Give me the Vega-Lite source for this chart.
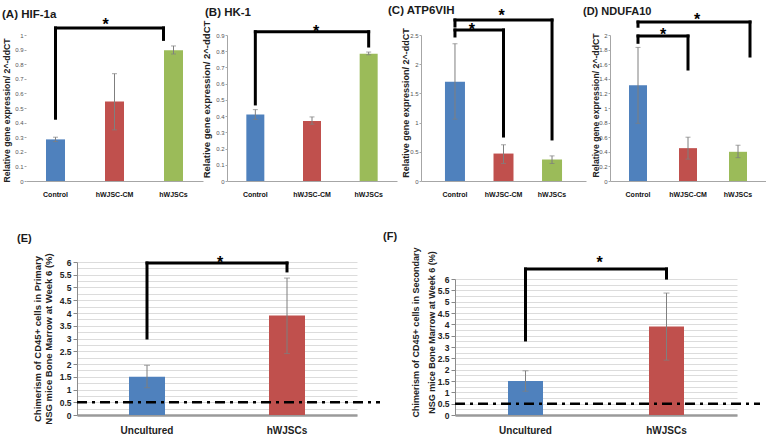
{
 "$schema": "https://vega.github.io/schema/vega-lite/v6.json",
 "background": "white",
 "padding": {"left": 2, "top": 5, "right": 0, "bottom": 0},
 "config": {
  "view": {"stroke": null},
  "font": "Liberation Sans",
  "title": {"fontWeight": "bold", "color": "#1a1a1a", "anchor": "start", "frame": "group", "baseline": "alphabetic", "font": "Liberation Sans"},
  "axis": {"grid": false, "labelOverlap": false, "labelFlush": false, "titleFontWeight": "bold", "titleColor": "#222222", "titleFont": "Liberation Sans", "labelFont": "Liberation Sans"},
  "axisY": {"titleBaseline": "middle", "labelFontSize": 6, "labelColor": "#555555", "labelPadding": 1, "tickSize": 2, "tickColor": "#aaaaaa", "domainColor": "#a6a6a6"},
  "axisX": {"labelAngle": 0, "ticks": false, "labelFontWeight": "bold", "domainColor": "#a6a6a6"}
 },
 "datasets": {
  "A_bars": [{"g":"Control","y":0.285},{"g":"hWJSC-CM","y":0.545},{"g":"hWJSCs","y":0.895}],
  "A_err": [{"g":"Control","y":0.27,"y2":0.3},{"g":"hWJSC-CM","y":0.35,"y2":0.735},{"g":"hWJSCs","y":0.87,"y2":0.925}],
  "A_br": [{"g":"Control","g2":"Control","y":0.43,"y2":1.048}],
  "A_brh": [{"g":"Control","g2":"hWJSCs","y":1.048,"y2":1.048}],
  "A_brr": [{"g":"hWJSCs","g2":"hWJSCs","y":0.97,"y2":1.048}],
  "A_star": [{"g":"hWJSC-CM","y":1.034}],
  "B_bars": [{"g":"Control","y":0.41},{"g":"hWJSC-CM","y":0.37},{"g":"hWJSCs","y":0.785}],
  "B_err": [{"g":"Control","y":0.38,"y2":0.44},{"g":"hWJSC-CM","y":0.35,"y2":0.395},{"g":"hWJSCs","y":0.778,"y2":0.795}],
  "B_br": [{"g":"Control","g2":"hWJSCs","y":0.92,"y2":0.92},{"g":"Control","g2":"Control","y":0.475,"y2":0.92},{"g":"hWJSCs","g2":"hWJSCs","y":0.832,"y2":0.92}],
  "B_star": [{"g":"hWJSC-CM","y":0.888}],
  "C_bars": [{"g":"Control","y":1.7},{"g":"hWJSC-CM","y":0.47},{"g":"hWJSCs","y":0.37}],
  "C_err": [{"g":"Control","y":1.06,"y2":2.35},{"g":"hWJSC-CM","y":0.3,"y2":0.62},{"g":"hWJSCs","y":0.3,"y2":0.43}],
  "C_br": [{"g":"Control","g2":"hWJSCs","y":2.757,"y2":2.757},{"g":"Control","g2":"Control","y":2.654,"y2":2.757},{"g":"hWJSCs","g2":"hWJSCs","y":0.72,"y2":2.757},{"g":"Control","g2":"hWJSC-CM","y":2.585,"y2":2.585},{"g":"Control","g2":"Control","y":2.483,"y2":2.585},{"g":"hWJSC-CM","g2":"hWJSC-CM","y":0.77,"y2":2.585}],
  "C_star1": [{"g":"hWJSC-CM","y":2.74}],
  "C_star2": [{"g":"Control","y":2.5}],
  "D_bars": [{"g":"Control","y":1.31},{"g":"hWJSC-CM","y":0.45},{"g":"hWJSCs","y":0.4}],
  "D_err": [{"g":"Control","y":0.79,"y2":1.83},{"g":"hWJSC-CM","y":0.3,"y2":0.6},{"g":"hWJSCs","y":0.32,"y2":0.49}],
  "D_br": [{"g":"Control","g2":"Control","y":2.12,"y2":2.178},{"g":"Control","g2":"hWJSC-CM","y":1.986,"y2":1.986},{"g":"Control","g2":"Control","y":1.9,"y2":1.986},{"g":"hWJSC-CM","g2":"hWJSC-CM","y":1.534,"y2":1.986}],
  "D_brh": [{"g":"Control","g2":"hWJSCs","y":2.178,"y2":2.178}],
  "D_brr": [{"g":"hWJSCs","g2":"hWJSCs","y":1.712,"y2":2.178}],
  "D_star1": [{"g":"hWJSC-CM","y":2.14}],
  "D_star2": [{"g":"Control","y":1.935}],
  "E_bars": [{"g":"Uncultured","y":1.5},{"g":"hWJSCs","y":3.9}],
  "E_err": [{"g":"Uncultured","y":1.07,"y2":1.95},{"g":"hWJSCs","y":2.41,"y2":5.37}],
  "E_br": [{"g":"Uncultured","g2":"hWJSCs","y":5.96,"y2":5.96},{"g":"Uncultured","g2":"Uncultured","y":3.02,"y2":5.96},{"g":"hWJSCs","g2":"hWJSCs","y":5.65,"y2":5.96}],
  "E_star": [{"g":"Uncultured","y":5.765}],
  "E_thr": [{"g":"Uncultured","g2":"hWJSCs","y":0.5,"y2":0.5}],
  "F_bars": [{"g":"Uncultured","y":1.5},{"g":"hWJSCs","y":3.9}],
  "F_err": [{"g":"Uncultured","y":1.05,"y2":1.95},{"g":"hWJSCs","y":2.42,"y2":5.38}],
  "F_br": [{"g":"Uncultured","g2":"hWJSCs","y":6.44,"y2":6.44},{"g":"Uncultured","g2":"Uncultured","y":3.31,"y2":6.44},{"g":"hWJSCs","g2":"hWJSCs","y":6.04,"y2":6.44}],
  "F_star": [{"g":"Uncultured","y":6.48}],
  "F_thr": [{"g":"Uncultured","g2":"hWJSCs","y":0.5,"y2":0.5}]
 },
 "spacing": 34,
 "bounds": "full",
 "resolve": {"scale": {"color": "independent", "x": "independent", "y": "independent"}},
 "vconcat": [
  {
   "hconcat": [
    {
     "width": 177, "height": 146,
     "title": {"text": "(A) HIF-1a", "dx": -24, "offset": -3, "fontSize": 11.5},
     "encoding": {
      "x": {"field": "g", "type": "nominal", "scale": {"domain": ["Control","hWJSC-CM","hWJSCs"], "paddingInner": 0, "paddingOuter": 0}, "axis": {"title": null, "labelFontSize": 7, "labelColor": "#111111", "labelPadding": 9}},
      "y": {"field": "y", "type": "quantitative", "scale": {"domain": [0, 1], "nice": false}, "axis": {"title": "Relative gene expression/ 2^-ddCT", "titleFontSize": 8.7, "titleX": -19.5, "titleY": 75, "values": [0,0.1,0.2,0.3,0.4,0.5,0.6,0.7,0.8,0.9,1], "format": ".1~f", "domain": false}}
     },
     "layer": [
      {"data": {"name": "A_bars"}, "mark": {"type": "bar", "width": 19}, "encoding": {"color": {"field": "g", "type": "nominal", "scale": {"domain": ["Control","hWJSC-CM","hWJSCs"], "range": ["#4f81bd","#c0504d","#9bbb59"]}, "legend": null}}},
      {"data": {"name": "A_err"}, "mark": {"type": "errorbar", "ticks": {"color": "#7f7f7f"}, "rule": {"color": "#7f7f7f"}, "size": 5, "thickness": 1}, "encoding": {"y2": {"field": "y2"}}},
      {"data": {"name": "A_br"}, "mark": {"type": "rule", "color": "#000000", "strokeWidth": 3, "strokeCap": "square"}, "encoding": {"x2": {"field": "g2"}, "y2": {"field": "y2"}}},
      {"data": {"name": "A_brh"}, "mark": {"type": "rule", "color": "#000000", "strokeWidth": 3, "strokeCap": "square", "x2Offset": -10}, "encoding": {"x2": {"field": "g2"}, "y2": {"field": "y2"}}},
      {"data": {"name": "A_brr"}, "mark": {"type": "rule", "color": "#000000", "strokeWidth": 3, "strokeCap": "square", "xOffset": -10, "x2Offset": -10}, "encoding": {"x2": {"field": "g2"}, "y2": {"field": "y2"}}},
      {"data": {"name": "A_star"}, "mark": {"type": "text", "text": "*", "fontSize": 16, "fontWeight": "bold", "baseline": "alphabetic", "dx": -9, "color": "#000000"}}
     ]
    },
    {
     "width": 170, "height": 146,
     "title": {"text": "(B) HK-1", "dx": -22, "offset": 2, "fontSize": 11.5},
     "encoding": {
      "x": {"field": "g", "type": "nominal", "scale": {"domain": ["Control","hWJSC-CM","hWJSCs"], "paddingInner": 0, "paddingOuter": 0}, "axis": {"title": null, "labelFontSize": 7, "labelColor": "#111111", "labelPadding": 9}},
      "y": {"field": "y", "type": "quantitative", "scale": {"domain": [0, 0.9], "nice": false}, "axis": {"title": "Relative gene expression/ 2^-ddCT", "titleFontSize": 9.5, "titleX": -21, "titleY": 64, "values": [0,0.1,0.2,0.3,0.4,0.5,0.6,0.7,0.8,0.9], "format": ".1~f"}}
     },
     "layer": [
      {"data": {"name": "B_bars"}, "mark": {"type": "bar", "width": 18}, "encoding": {"color": {"field": "g", "type": "nominal", "scale": {"domain": ["Control","hWJSC-CM","hWJSCs"], "range": ["#4f81bd","#c0504d","#9bbb59"]}, "legend": null}}},
      {"data": {"name": "B_err"}, "mark": {"type": "errorbar", "ticks": {"color": "#7f7f7f"}, "rule": {"color": "#7f7f7f"}, "size": 5, "thickness": 1}, "encoding": {"y2": {"field": "y2"}}},
      {"data": {"name": "B_br"}, "mark": {"type": "rule", "color": "#000000", "strokeWidth": 3, "strokeCap": "square"}, "encoding": {"x2": {"field": "g2"}, "y2": {"field": "y2"}}},
      {"data": {"name": "B_star"}, "mark": {"type": "text", "text": "*", "fontSize": 16, "fontWeight": "bold", "baseline": "alphabetic", "dx": 4, "color": "#000000"}}
     ]
    },
    {
     "width": 165, "height": 146,
     "title": {"text": "(C)  ATP6VIH", "dx": -33, "offset": -9, "fontSize": 11.5},
     "encoding": {
      "x": {"field": "g", "type": "nominal", "scale": {"domain": ["Control","hWJSC-CM","hWJSCs"], "paddingInner": 0, "paddingOuter": 0.2}, "axis": {"title": null, "labelFontSize": 7, "labelColor": "#111111", "labelPadding": 9}},
      "y": {"field": "y", "type": "quantitative", "scale": {"domain": [0, 2.5], "nice": false}, "axis": {"title": "Relative gene expression/ 2^-ddCT", "titleFontSize": 9, "titleX": -16, "titleY": 67.5, "values": [0,0.5,1,1.5,2,2.5], "format": ".1~f"}}
     },
     "layer": [
      {"data": {"name": "C_bars"}, "mark": {"type": "bar", "width": 20}, "encoding": {"color": {"field": "g", "type": "nominal", "scale": {"domain": ["Control","hWJSC-CM","hWJSCs"], "range": ["#4f81bd","#c0504d","#9bbb59"]}, "legend": null}}},
      {"data": {"name": "C_err"}, "mark": {"type": "errorbar", "ticks": {"color": "#7f7f7f"}, "rule": {"color": "#7f7f7f"}, "size": 5, "thickness": 1}, "encoding": {"y2": {"field": "y2"}}},
      {"data": {"name": "C_br"}, "mark": {"type": "rule", "color": "#000000", "strokeWidth": 3, "strokeCap": "square"}, "encoding": {"x2": {"field": "g2"}, "y2": {"field": "y2"}}},
      {"data": {"name": "C_star1"}, "mark": {"type": "text", "text": "*", "fontSize": 16, "fontWeight": "bold", "baseline": "alphabetic", "dx": -2, "color": "#000000"}},
      {"data": {"name": "C_star2"}, "mark": {"type": "text", "text": "*", "fontSize": 16, "fontWeight": "bold", "baseline": "alphabetic", "dx": 17, "color": "#000000"}}
     ]
    },
    {
     "width": 156, "height": 146,
     "title": {"text": "(D)  NDUFA10", "dx": -27, "offset": -5, "fontSize": 11},
     "encoding": {
      "x": {"field": "g", "type": "nominal", "scale": {"domain": ["Control","hWJSC-CM","hWJSCs"], "paddingInner": 0, "paddingOuter": 0.06}, "axis": {"title": null, "labelFontSize": 7, "labelColor": "#111111", "labelPadding": 9}},
      "y": {"field": "y", "type": "quantitative", "scale": {"domain": [0, 2], "nice": false}, "axis": {"title": "Relative gene expression/ 2^-ddCT", "titleFontSize": 8.7, "titleX": -15, "titleY": 70, "values": [0,0.2,0.4,0.6,0.8,1,1.2,1.4,1.6,1.8,2], "format": ".1~f"}}
     },
     "layer": [
      {"data": {"name": "D_bars"}, "mark": {"type": "bar", "width": 18}, "encoding": {"color": {"field": "g", "type": "nominal", "scale": {"domain": ["Control","hWJSC-CM","hWJSCs"], "range": ["#4f81bd","#c0504d","#9bbb59"]}, "legend": null}}},
      {"data": {"name": "D_err"}, "mark": {"type": "errorbar", "ticks": {"color": "#7f7f7f"}, "rule": {"color": "#7f7f7f"}, "size": 5, "thickness": 1}, "encoding": {"y2": {"field": "y2"}}},
      {"data": {"name": "D_br"}, "mark": {"type": "rule", "color": "#000000", "strokeWidth": 3, "strokeCap": "square"}, "encoding": {"x2": {"field": "g2"}, "y2": {"field": "y2"}}},
      {"data": {"name": "D_brh"}, "mark": {"type": "rule", "color": "#000000", "strokeWidth": 3, "strokeCap": "square", "x2Offset": 12}, "encoding": {"x2": {"field": "g2"}, "y2": {"field": "y2"}}},
      {"data": {"name": "D_brr"}, "mark": {"type": "rule", "color": "#000000", "strokeWidth": 3, "strokeCap": "square", "xOffset": 12, "x2Offset": 12}, "encoding": {"x2": {"field": "g2"}, "y2": {"field": "y2"}}},
      {"data": {"name": "D_star1"}, "mark": {"type": "text", "text": "*", "fontSize": 16, "fontWeight": "bold", "baseline": "alphabetic", "dx": 9, "color": "#000000"}},
      {"data": {"name": "D_star2"}, "mark": {"type": "text", "text": "*", "fontSize": 16, "fontWeight": "bold", "baseline": "alphabetic", "dx": 25, "color": "#000000"}}
     ]
    }
   ],
   "spacing": 24,
   "bounds": "flush",
   "resolve": {"scale": {"color": "independent", "x": "independent", "y": "independent"}}
  },
  {
   "hconcat": [
    {"width": 51, "height": 1, "data": {"values": []}, "mark": {"type": "point", "opacity": 0}, "encoding": {}},
    {
     "hconcat": [
      {
       "width": 280, "height": 153,
       "title": {"text": "(E)", "dx": -60, "offset": 9, "fontSize": 11},
       "encoding": {
        "x": {"field": "g", "type": "nominal", "scale": {"domain": ["Uncultured","hWJSCs"], "paddingInner": 0, "paddingOuter": 0}, "axis": {"title": null, "labelFontSize": 10, "labelColor": "#222222", "labelPadding": 10, "domainColor": "#9a9a9a", "domainWidth": 2.5}},
        "y": {"field": "y", "type": "quantitative", "scale": {"domain": [0, 6], "nice": false}, "axis": {"title": ["Chimerism of CD45+ cells in Primary", "NSG mice Bone Marrow at Week 6 (%)"], "titleFontSize": 9.5, "titleLineHeight": 11, "titleX": -39.5, "titleY": 76.5, "values": [0,0.25,0.5,0.75,1,1.25,1.5,1.75,2,2.25,2.5,2.75,3,3.25,3.5,3.75,4,4.25,4.5,4.75,5,5.25,5.5,5.75,6], "labelExpr": "datum.value % 0.5 === 0 ? format(datum.value, '.1~f') : ''", "labelFontSize": 8.5, "labelFontWeight": "bold", "labelColor": "#222222", "labelPadding": 2, "tickSize": 4, "tickColor": "#888888", "tickOpacity": {"condition": {"test": "datum.value % 0.5 === 0", "value": 1}, "value": 0}, "grid": true, "gridColor": "#dcdcdc", "domainColor": "#8c8c8c"}}
       },
       "layer": [
        {"data": {"name": "E_bars"}, "mark": {"type": "bar", "width": 36}, "encoding": {"color": {"field": "g", "type": "nominal", "scale": {"domain": ["Uncultured","hWJSCs"], "range": ["#4f81bd","#c0504d"]}, "legend": null}}},
        {"data": {"name": "E_err"}, "mark": {"type": "errorbar", "ticks": {"color": "#7f7f7f"}, "rule": {"color": "#7f7f7f"}, "size": 6, "thickness": 1}, "encoding": {"y2": {"field": "y2"}}},
        {"data": {"name": "E_br"}, "mark": {"type": "rule", "color": "#000000", "strokeWidth": 3, "strokeCap": "square"}, "encoding": {"x2": {"field": "g2"}, "y2": {"field": "y2"}}},
        {"data": {"name": "E_star"}, "mark": {"type": "text", "text": "*", "fontSize": 16, "fontWeight": "bold", "baseline": "alphabetic", "dx": 73, "color": "#000000"}},
        {"data": {"name": "E_thr"}, "mark": {"type": "rule", "color": "#000000", "strokeWidth": 2.5, "strokeDash": [10, 5, 3, 5], "xOffset": -70, "x2Offset": 93}, "encoding": {"x2": {"field": "g2"}, "y2": {"field": "y2"}}}
       ]
      },
      {
       "vconcat": [
        {"width": 282, "height": 17, "data": {"values": []}, "mark": {"type": "point", "opacity": 0}, "encoding": {}},
        {
         "width": 282, "height": 136,
         "title": {"text": "(F)", "dx": -72, "offset": 5, "fontSize": 11},
         "encoding": {
          "x": {"field": "g", "type": "nominal", "scale": {"domain": ["Uncultured","hWJSCs"], "paddingInner": 0, "paddingOuter": 0}, "axis": {"title": null, "labelFontSize": 10, "labelColor": "#222222", "labelPadding": 10, "domainColor": "#9a9a9a", "domainWidth": 2.5}},
          "y": {"field": "y", "type": "quantitative", "scale": {"domain": [0, 6], "nice": false}, "axis": {"title": ["Chimerism of CD45+ cells in Secondary", "NSG mice Bone Marrow at Week 6 (%)"], "titleFontSize": 9, "titleLineHeight": 16, "titleX": -40, "titleY": 53, "values": [0,0.25,0.5,0.75,1,1.25,1.5,1.75,2,2.25,2.5,2.75,3,3.25,3.5,3.75,4,4.25,4.5,4.75,5,5.25,5.5,5.75,6], "labelExpr": "datum.value % 0.5 === 0 ? format(datum.value, '.1~f') : ''", "labelFontSize": 8.5, "labelFontWeight": "bold", "labelColor": "#222222", "labelPadding": 2, "tickSize": 4, "tickColor": "#888888", "tickOpacity": {"condition": {"test": "datum.value % 0.5 === 0", "value": 1}, "value": 0}, "grid": true, "gridColor": "#dcdcdc", "domainColor": "#8c8c8c"}}
         },
         "layer": [
          {"data": {"name": "F_bars"}, "mark": {"type": "bar", "width": 35}, "encoding": {"color": {"field": "g", "type": "nominal", "scale": {"domain": ["Uncultured","hWJSCs"], "range": ["#4f81bd","#c0504d"]}, "legend": null}}},
          {"data": {"name": "F_err"}, "mark": {"type": "errorbar", "ticks": {"color": "#7f7f7f"}, "rule": {"color": "#7f7f7f"}, "size": 6, "thickness": 1}, "encoding": {"y2": {"field": "y2"}}},
          {"data": {"name": "F_br"}, "mark": {"type": "rule", "color": "#000000", "strokeWidth": 3, "strokeCap": "square"}, "encoding": {"x2": {"field": "g2"}, "y2": {"field": "y2"}}},
          {"data": {"name": "F_star"}, "mark": {"type": "text", "text": "*", "fontSize": 16, "fontWeight": "bold", "baseline": "alphabetic", "dx": 74, "color": "#000000"}},
          {"data": {"name": "F_thr"}, "mark": {"type": "rule", "color": "#000000", "strokeWidth": 2.5, "strokeDash": [10, 5, 3, 5], "xOffset": -70.5, "x2Offset": 93.5}, "encoding": {"x2": {"field": "g2"}, "y2": {"field": "y2"}}}
         ]
        }
       ],
       "spacing": 0,
       "bounds": "flush",
       "resolve": {"scale": {"color": "independent", "x": "independent", "y": "independent"}}
      }
     ],
     "spacing": 98,
     "bounds": "flush",
     "resolve": {"scale": {"color": "independent", "x": "independent", "y": "independent"}}
    }
   ],
   "spacing": 0,
   "bounds": "flush",
   "resolve": {"scale": {"color": "independent", "x": "independent", "y": "independent"}}
  }
 ]
}
